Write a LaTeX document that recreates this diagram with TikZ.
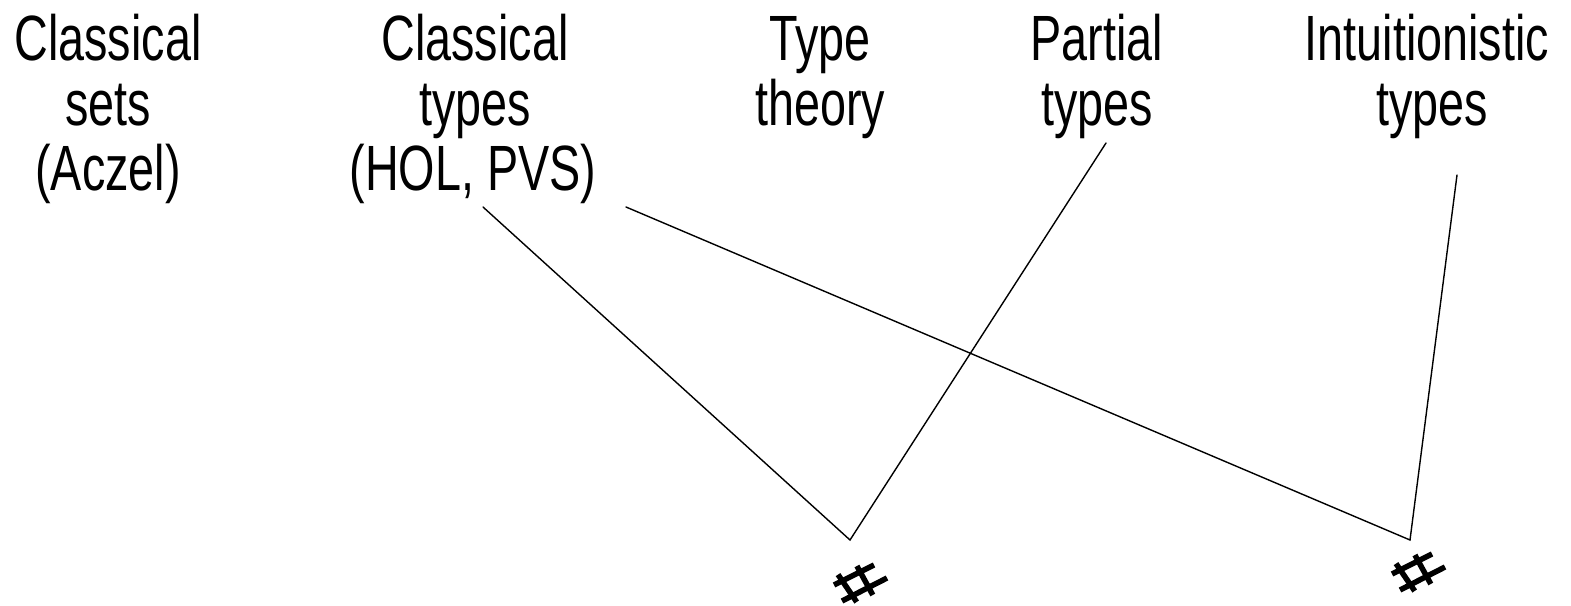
\documentclass[tikz,border=0pt]{standalone}
\usepackage{fontspec}
\setmainfont[FakeStretch=0.73]{Liberation Sans}
\begin{document}
\begin{tikzpicture}[x=1pt,y=-1pt,
  lbl/.style={anchor=base,inner sep=0pt,font=\fontsize{64}{65}\selectfont},
  link/.style={line width=1.4pt,line cap=round},
  hashstroke/.style={line width=5.5pt}]
\useasboundingbox (0,0) rectangle (1571,605);
% column 1
\node[lbl] (a1) at (108,60) {Classical};
\node[lbl] (a2) at (108,125) {sets};
\node[lbl] (a3) at (108,190) {(Aczel)};
% column 2
\node[lbl] (b1) at (475,60) {Classical};
\node[lbl] (b2) at (475,125) {types};
\node[lbl] (b3) at (473,190) {(HOL, PVS)};
% column 3
\node[lbl] (c1) at (820,60) {Type};
\node[lbl] (c2) at (820,125) {theory};
% column 4
\node[lbl] (d1) at (1097,60) {Partial};
\node[lbl] (d2) at (1097,125) {types};
% column 5
\node[lbl] (e1) at (1427,60) {Intuitionistic};
\node[lbl] (e2) at (1432,125) {types};
% connector end points
\coordinate (bL) at (483,207);
\coordinate (bR) at (626,207);
\coordinate (dS) at (1106,143);
\coordinate (eS) at (1457,175);
\coordinate (m1) at (850,540);
\coordinate (m2) at (1410,540);
\draw[link] (bL) -- (m1) -- (dS);
\draw[link] (bR) -- (m2) -- (eS);
% hash marks
\foreach \n/\cx/\cy in {h1/859/582, h2/1417/571}{
  \coordinate (\n) at (\cx,\cy);
  \begin{scope}[shift={(\n)}]
    \draw[hashstroke] (-25,3) -- (15,-17);
    \draw[hashstroke] (-17,19) -- (28,-4);
    \draw[hashstroke] (-21,-7.4) -- (-2.3,20);
    \draw[hashstroke] (-2.1,-16) -- (13.8,13);
  \end{scope}
}
\end{tikzpicture}
\end{document}
